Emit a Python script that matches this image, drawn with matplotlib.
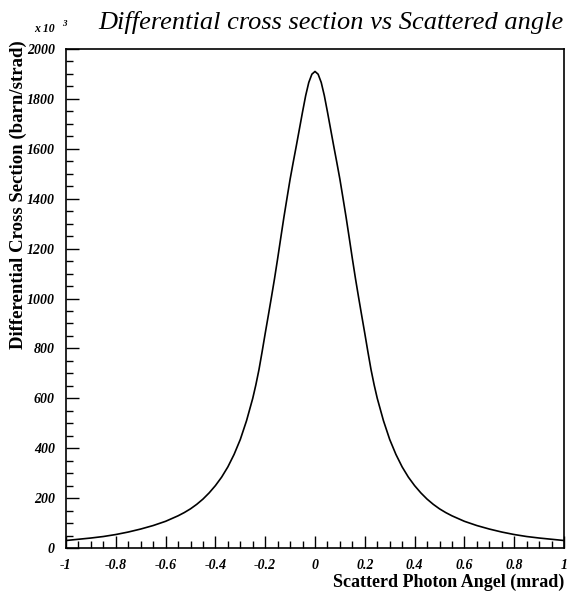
import matplotlib
matplotlib.use("Agg")
import matplotlib.pyplot as plt
from matplotlib.ticker import MultipleLocator

# scattered photon angle (mrad) and differential cross section (x 10^3 barn/strad)
angle = [
    -1.0, -0.95, -0.9, -0.85, -0.8, -0.75, -0.7, -0.65, -0.6, -0.55,
    -0.525, -0.5, -0.475, -0.45, -0.425, -0.4, -0.375, -0.35, -0.325, -0.3, -0.275,
    -0.25, -0.2375, -0.225, -0.2125, -0.2, -0.1875, -0.175, -0.1625, -0.15, -0.1375,
    -0.125, -0.1125, -0.1, -0.0875, -0.075, -0.0625, -0.05, -0.0375, -0.025, -0.0125,
    0.0,
    0.0125, 0.025, 0.0375, 0.05, 0.0625, 0.075, 0.0875, 0.1, 0.1125, 0.125,
    0.1375, 0.15, 0.1625, 0.175, 0.1875, 0.2, 0.2125, 0.225, 0.2375, 0.25,
    0.275, 0.3, 0.325, 0.35, 0.375, 0.4, 0.425, 0.45, 0.475, 0.5, 0.525,
    0.55, 0.6, 0.65, 0.7, 0.75, 0.8, 0.85, 0.9, 0.95, 1.0,
]
xsec = [
    30, 35, 40, 46, 54, 64, 76, 90, 107, 129,
    142, 157, 175, 196, 221, 250, 284, 325, 375, 435, 510,
    600, 654, 715, 786, 860, 932, 1005, 1080, 1160, 1243,
    1325, 1402, 1478, 1546, 1612, 1680, 1748, 1813, 1866, 1899,
    1910,
    1899, 1866, 1813, 1748, 1680, 1612, 1546, 1478, 1402, 1325,
    1243, 1160, 1080, 1005, 932, 860, 786, 715, 654, 600,
    510, 435, 375, 325, 284, 250, 221, 196, 175, 157, 142,
    129, 107, 90, 76, 64, 54, 46, 40, 35, 30,
]
xticks = [-1, -0.8, -0.6, -0.4, -0.2, 0, 0.2, 0.4, 0.6, 0.8, 1]
xtick_labels = ["-1", "-0.8", "-0.6", "-0.4", "-0.2", "0", "0.2", "0.4", "0.6", "0.8", "1"]
yticks = [0, 200, 400, 600, 800, 1000, 1200, 1400, 1600, 1800, 2000]

serif = "Liberation Serif"

fig = plt.figure(figsize=(5.69, 5.99), dpi=100)
ax = fig.add_axes([66 / 569, 51 / 599, 498 / 569, 499 / 599])

ax.plot(angle, xsec, color="black", lw=1.2)
ax.set_xlim(-1, 1)
ax.set_ylim(0, 2000)

ax.set_xticks(xticks)
ax.set_xticklabels(xtick_labels)
ax.set_yticks(yticks)
ax.xaxis.set_minor_locator(MultipleLocator(0.05))
ax.yaxis.set_minor_locator(MultipleLocator(50))
ax.tick_params(which="both", direction="in", top=False, right=False, width=1.0)
ax.tick_params(which="major", length=9)
ax.tick_params(axis="x", which="major", pad=8)
ax.tick_params(axis="y", which="major", pad=8)
ax.tick_params(which="minor", length=5)
for lab in ax.get_xticklabels() + ax.get_yticklabels():
    lab.set_family(serif)
    lab.set_weight("bold")
    lab.set_style("italic")
    lab.set_fontsize(10)
for sp in ax.spines.values():
    sp.set_linewidth(1.2)

fig.text(564 / 569, 1 - 22 / 599, "Differential cross section vs Scattered angle",
         family=serif, style="italic", fontsize=19, ha="right", va="center")
fig.text(34 / 569, 1 - 29 / 599, "x 10", family=serif, style="italic", weight="bold",
         fontsize=8.5, ha="left", va="center")
fig.text(62 / 569, 1 - 24 / 599, "3", family=serif, style="italic", weight="bold",
         fontsize=6.5, ha="left", va="center")
fig.text(18 / 569, 1 - 195 / 599, "Differential Cross Section (barn/strad)",
         family=serif, weight="bold", fontsize=13.5, rotation=90, ha="center", va="center")
fig.text(564 / 569, 1 - 582 / 599, "Scatterd Photon Angel (mrad)",
         family=serif, weight="bold", fontsize=13, ha="right", va="center")

fig.savefig("out.png", dpi=100)
